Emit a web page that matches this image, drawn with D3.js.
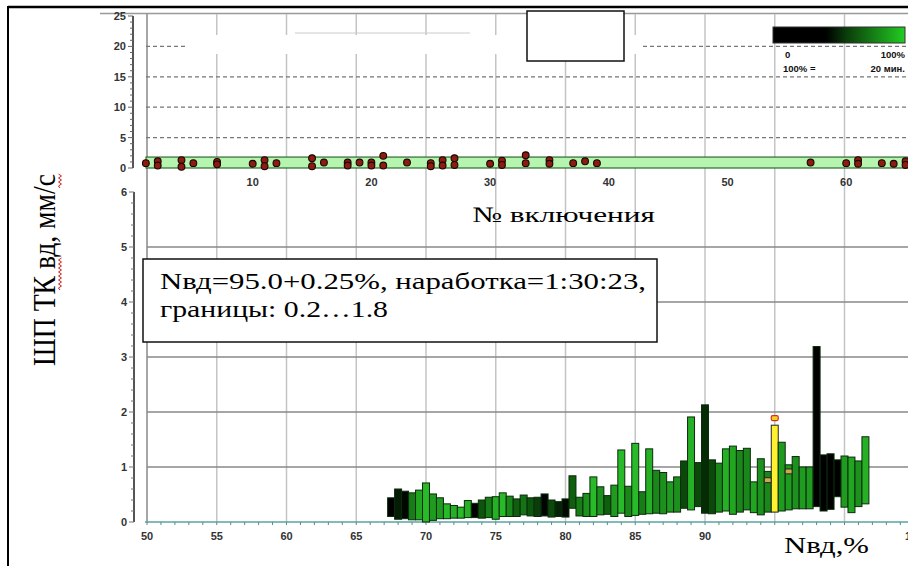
<!DOCTYPE html>
<html><head><meta charset="utf-8">
<script src="https://cdn.jsdelivr.net/npm/d3@7"></script>
<style>html,body{margin:0;padding:0;background:#fff;}svg{display:block;}</style>
</head><body>
<script>
// ---- data ----
const barPos  = [67.5,68.0,68.5,69.0,69.5,70.0,70.5,71.0,71.5,72.0,72.5,73.0,73.5,74.0,74.5,75.0,75.5,76.0,76.5,77.0,77.5,78.0,78.5,79.0,79.5,80.0,80.5,81.0,81.5,82.0,82.5,83.0,83.5,84.0,84.5,85.0,85.5,86.0,86.5,87.0,87.5,88.0,88.5,89.0,89.5,90.0,90.5,91.0,91.5,92.0,92.5,93.0,93.5,94.0,94.5,95.0,95.5,96.0,96.5,97.0,97.5,98.0,98.5,99.0,99.5,100.0,100.5,101.0,101.5];
const barLow  = [0.10,0.05,0.06,0.04,0.04,0.00,0.03,0.06,0.06,0.07,0.07,0.08,0.08,0.07,0.08,0.05,0.10,0.10,0.10,0.13,0.11,0.10,0.11,0.09,0.10,0.09,0.25,0.11,0.10,0.10,0.13,0.14,0.10,0.16,0.10,0.12,0.14,0.15,0.16,0.15,0.18,0.18,0.25,0.22,0.28,0.16,0.15,0.18,0.20,0.14,0.18,0.22,0.17,0.13,0.18,0.18,0.20,0.22,0.24,0.24,0.24,0.28,0.20,0.23,0.46,0.27,0.17,0.28,0.33];
const barHigh = [0.44,0.60,0.56,0.53,0.58,0.71,0.51,0.44,0.33,0.30,0.27,0.39,0.34,0.40,0.45,0.46,0.53,0.47,0.42,0.49,0.44,0.45,0.51,0.40,0.37,0.42,0.84,0.45,0.52,0.82,0.64,0.48,0.67,1.31,0.65,1.43,0.55,1.33,0.94,0.90,0.73,0.82,1.11,1.91,1.08,2.13,1.13,1.07,1.33,1.38,1.30,1.34,0.73,1.15,0.92,1.76,1.45,1.04,1.19,1.00,1.00,3.19,1.22,1.24,1.13,1.20,1.18,1.11,1.55];
const barTime = [0.00,0.12,0.03,0.55,0.75,0.85,0.70,0.70,0.85,0.80,0.85,0.80,0.00,0.35,0.55,0.80,0.85,0.60,0.40,0.50,0.35,0.25,0.02,0.30,0.15,0.04,0.40,0.55,0.65,0.85,0.65,0.40,0.70,0.85,0.60,0.85,0.55,0.80,0.60,0.65,0.70,0.65,0.30,0.80,0.30,0.18,0.30,0.60,0.80,0.75,0.60,0.60,0.75,0.65,0.60,0.70,0.70,0.70,0.65,0.70,0.70,0.00,0.00,0.00,0.00,0.70,0.75,0.65,0.80];
const currentPos = 95.0;
const markX = [94.5, 95.0, 96.0];
const markY = [0.76, 1.89, 0.92];

const ptX = [1,2,2,4,4,5,7,7,10,11,11,12,15,15,16,18,18,19,20,20,21,21,23,25,25,26,26,27,27,30,31,31,33,33,35,35,37,38,39,57,60,61,61,63,64,65,65];
const ptY = [0.8,1.1,0.4,1.3,0.2,0.8,1.0,0.6,0.7,1.3,0.3,0.8,1.6,0.3,0.9,0.9,0.4,0.9,0.9,0.4,2.0,0.4,0.9,0.8,0.3,1.3,0.4,1.6,0.5,0.7,1.2,0.5,2.1,0.8,1.3,0.7,0.8,1.1,0.8,0.9,0.8,1.3,0.7,0.8,0.7,1.1,0.5];
const bandRange = [0, 1.8];

const topXTicks = [10,20,30,40,50,60];
const topYTicks = [0,5,10,15,20,25];
const botXTicks = [50,55,60,65,70,75,80,85,90,95,100,105];
const botXLabels = [50,55,60,65,70,75,80,85,90,105]; // 95 and 100 hidden under the axis title in the original
const botYTicks = [0,1,2,3,4,5,6];

const yLabel = "ШП ТК вд, мм/с";
const xTopLabel = "№ включения";
const xBotLabel = "Nвд,%";
const noteLines = ["Nвд=95.0+0.25%, наработка=1:30:23,", "границы: 0.2…1.8"];
const legendTexts = ["0","100%","100% =","20 мин."];

// ---- drawing ----
const W = 908, H = 566;
const svg = d3.select("body").append("svg").attr("width", W).attr("height", H);
svg.append("rect").attr("width", W).attr("height", H).attr("fill", "#fff");

const xB = d3.scaleLinear().domain([50, 105]).range([147, 147 + 55 * 13.95]);
const yB = d3.scaleLinear().domain([0, 6]).range([522, 192]);
const xT = d3.scaleLinear().domain([0, 65]).range([134, 134 + 65 * 11.87]);
const yT = d3.scaleLinear().domain([0, 25]).range([168, 16]);
const sans = "Liberation Sans, Arial, sans-serif";
const serif = "Liberation Serif, Times New Roman, serif";
const tickFill = "#333";

// top border line of plot
svg.append("line").attr("x1", 100).attr("x2", W).attr("y1", 13.5).attr("y2", 13.5)
  .attr("stroke", "#999").attr("stroke-width", 1.5);

// vertical gridlines spanning both panels
svg.append("g").selectAll("line").data(botXTicks).join("line")
  .attr("x1", d => xB(d)).attr("x2", d => xB(d)).attr("y1", 14).attr("y2", 522)
  .attr("stroke", d => d === 50 ? "#888" : "#c4c4c4").attr("stroke-width", 1.5);

// top panel dashed grid
svg.append("g").selectAll("line").data(topYTicks.filter(d => d > 0 && d < 25)).join("line")
  .attr("x1", 146).attr("x2", W).attr("y1", d => yT(d)).attr("y2", d => yT(d))
  .attr("stroke", "#777").attr("stroke-width", 1.2).attr("stroke-dasharray", "4,3");

// whitened area (mask in original)
svg.append("rect").attr("x", 188).attr("y", 35).attr("width", 452).attr("height", 19).attr("fill", "#fff");
svg.append("line").attr("x1", 295).attr("x2", 470).attr("y1", 33).attr("y2", 33).attr("stroke", "#ccc");

// band
svg.append("rect").attr("x", 146).attr("width", W - 146)
  .attr("y", yT(bandRange[1])).attr("height", yT(bandRange[0]) - yT(bandRange[1]))
  .attr("fill", "#b6f5b0").attr("stroke", "#2d6a2d").attr("stroke-width", 1.2);

// top y axis
const gTy = svg.append("g");
gTy.append("line").attr("x1", 133).attr("x2", 133).attr("y1", yT(25)).attr("y2", yT(0))
  .attr("stroke", "#555").attr("stroke-width", 2);
gTy.selectAll(".mn").data(d3.range(0, 26)).join("line")
  .attr("x1", d => d % 5 === 0 ? 128 : 130).attr("x2", 133)
  .attr("y1", d => yT(d)).attr("y2", d => yT(d)).attr("stroke", "#666").attr("stroke-width", 1);
gTy.selectAll("text").data(topYTicks).join("text")
  .attr("x", 126).attr("y", d => yT(d) + 4).attr("text-anchor", "end")
  .attr("font-family", sans).attr("font-size", 11).attr("font-weight", "bold").attr("fill", tickFill).text(d => d);

// top x tick labels
svg.append("g").selectAll("text").data(topXTicks).join("text")
  .attr("x", d => xT(d)).attr("y", 186).attr("text-anchor", "middle")
  .attr("font-family", sans).attr("font-size", 11).attr("font-weight", "bold").attr("fill", tickFill).text(d => d);

// points
svg.append("g").selectAll("circle").data(ptX.map((x, i) => [x, ptY[i]])).join("circle")
  .attr("cx", d => xT(d[0])).attr("cy", d => yT(d[1])).attr("r", 3.4)
  .attr("fill", "#8c1c12").attr("stroke", "#1a0502").attr("stroke-width", 1.1);

// bottom horizontal grid
svg.append("g").selectAll("line").data(botYTicks.filter(d => d > 0 && d < 6)).join("line")
  .attr("x1", 147).attr("x2", W).attr("y1", d => yB(d)).attr("y2", d => yB(d))
  .attr("stroke", "#888").attr("stroke-width", 1.5);

// bottom y axis
const gBy = svg.append("g");
gBy.append("line").attr("x1", 134).attr("x2", 134).attr("y1", yB(6)).attr("y2", yB(0))
  .attr("stroke", "#555").attr("stroke-width", 2);
gBy.selectAll(".mn").data(d3.range(0, 31)).join("line")
  .attr("x1", d => d % 5 === 0 ? 129 : 131).attr("x2", 134)
  .attr("y1", d => yB(d / 5)).attr("y2", d => yB(d / 5)).attr("stroke", "#777").attr("stroke-width", 1);
gBy.selectAll("text").data(botYTicks).join("text")
  .attr("x", 127).attr("y", d => yB(d) + 4).attr("text-anchor", "end")
  .attr("font-family", sans).attr("font-size", 11).attr("font-weight", "bold").attr("fill", tickFill).text(d => d);

// bottom x axis
const gBx = svg.append("g");
gBx.append("line").attr("x1", 145).attr("x2", W).attr("y1", 522).attr("y2", 522)
  .attr("stroke", "#5aa5a0").attr("stroke-width", 1.5);
gBx.selectAll(".mn").data(d3.range(50, 106)).join("line")
  .attr("x1", d => xB(d)).attr("x2", d => xB(d)).attr("y1", 522).attr("y2", 525)
  .attr("stroke", "#5a8a8a").attr("stroke-width", 1);
gBx.selectAll("text").data(botXLabels).join("text")
  .attr("x", d => xB(d)).attr("y", 540).attr("text-anchor", "middle")
  .attr("font-family", sans).attr("font-size", 11).attr("font-weight", "bold").attr("fill", tickFill).text(d => d);

// bars
const green = d3.scaleLinear().domain([0, 0.35, 1]).range(["#000000", "#0c550c", "#30d830"]);
const bw = xB(50.5) - xB(50);
svg.append("g").selectAll("rect").data(barPos.map((p, i) => ({p, lo: barLow[i], hi: barHigh[i], t: barTime[i]}))).join("rect")
  .attr("x", d => xB(d.p) - bw / 2).attr("width", bw)
  .attr("y", d => yB(d.hi)).attr("height", d => yB(d.lo) - yB(d.hi))
  .attr("fill", d => d.p === currentPos ? "#fff030" : green(d.t))
  .attr("stroke", d => d.p === currentPos ? "#222" : "#0c2a0c").attr("stroke-width", 1);

// markers
svg.append("g").selectAll("rect").data(markX.map((x, i) => [x, markY[i]])).join("rect")
  .attr("x", d => xB(d[0]) - 3.5).attr("width", 7).attr("y", d => yB(d[1]) - 2.5).attr("height", 5)
  .attr("rx", 1.5)
  .attr("fill", d => d[0] === currentPos ? "#f5d020" : "#c8b040")
  .attr("stroke", d => d[0] === currentPos ? "#d03020" : "#333").attr("stroke-width", 1.2);

// legend
const defs = svg.append("defs");
const lg = defs.append("linearGradient").attr("id", "lg");
lg.append("stop").attr("offset", "0%").attr("stop-color", "#000");
lg.append("stop").attr("offset", "40%").attr("stop-color", "#000");
lg.append("stop").attr("offset", "55%").attr("stop-color", "#0a3a0a");
lg.append("stop").attr("offset", "100%").attr("stop-color", "#22cc22");
svg.append("rect").attr("x", 773).attr("y", 27).attr("width", 132).attr("height", 16)
  .attr("fill", "url(#lg)").attr("stroke", "#333").attr("stroke-width", 1);
const lgT = svg.append("g").attr("font-family", sans).attr("font-size", 9.5).attr("font-weight", "bold").attr("fill", "#111");
lgT.append("text").attr("x", 785).attr("y", 58).text(legendTexts[0]);
lgT.append("text").attr("x", 905).attr("y", 58).attr("text-anchor", "end").text(legendTexts[1]);
lgT.append("text").attr("x", 783).attr("y", 72).text(legendTexts[2]);
lgT.append("text").attr("x", 905).attr("y", 72).attr("text-anchor", "end").text(legendTexts[3]);

// white box at top
svg.append("rect").attr("x", 527).attr("y", 11).attr("width", 97).attr("height", 50)
  .attr("fill", "#fff").attr("stroke", "#111").attr("stroke-width", 1.5);

// annotation
svg.append("rect").attr("x", 143).attr("y", 259).attr("width", 514).attr("height", 83)
  .attr("fill", "#fff").attr("stroke", "#111").attr("stroke-width", 1.5);
svg.append("text").attr("x", 160).attr("y", 289).attr("font-family", serif).attr("font-size", 23)
  .attr("textLength", 486).attr("lengthAdjust", "spacingAndGlyphs").attr("fill", "#000").text(noteLines[0]);
svg.append("text").attr("x", 160).attr("y", 317).attr("font-family", serif).attr("font-size", 23)
  .attr("textLength", 228).attr("lengthAdjust", "spacingAndGlyphs").attr("fill", "#000").text(noteLines[1]);

// top x label
svg.append("text").attr("x", 472).attr("y", 222).attr("font-family", serif).attr("font-size", 22)
  .attr("textLength", 183).attr("lengthAdjust", "spacingAndGlyphs").attr("fill", "#000").text(xTopLabel);

// bottom x label
svg.append("text").attr("x", 784).attr("y", 553).attr("font-family", serif).attr("font-size", 23)
  .attr("textLength", 85).attr("lengthAdjust", "spacingAndGlyphs").attr("fill", "#000").text(xBotLabel);

// y label
svg.append("text").attr("transform", "translate(55,366) scale(1.25,1) rotate(-90)")
  .attr("font-family", serif).attr("font-size", 26)
  .attr("textLength", 192).attr("lengthAdjust", "spacingAndGlyphs").attr("fill", "#000").text(yLabel);
// spell-check squiggles
function squig(x, y0, y1) {
  let p = `M${x},${y0}`; let k = 0;
  for (let y = y0; y > y1; y -= 2) { p += ` L${x + (k++ % 2 ? 1.5 : -1.5)},${y - 2}`; }
  return p;
}
svg.append("path").attr("d", squig(60, 290, 258)).attr("fill", "none").attr("stroke", "#d02020").attr("stroke-width", 1);
svg.append("path").attr("d", squig(60, 188, 174)).attr("fill", "none").attr("stroke", "#d02020").attr("stroke-width", 1);

// outer frame lines
svg.append("line").attr("x1", 8).attr("x2", W).attr("y1", 7).attr("y2", 7).attr("stroke", "#000").attr("stroke-width", 2.5);
svg.append("line").attr("x1", 8).attr("x2", 8).attr("y1", 6).attr("y2", H).attr("stroke", "#000").attr("stroke-width", 2);
</script>
</body></html>
